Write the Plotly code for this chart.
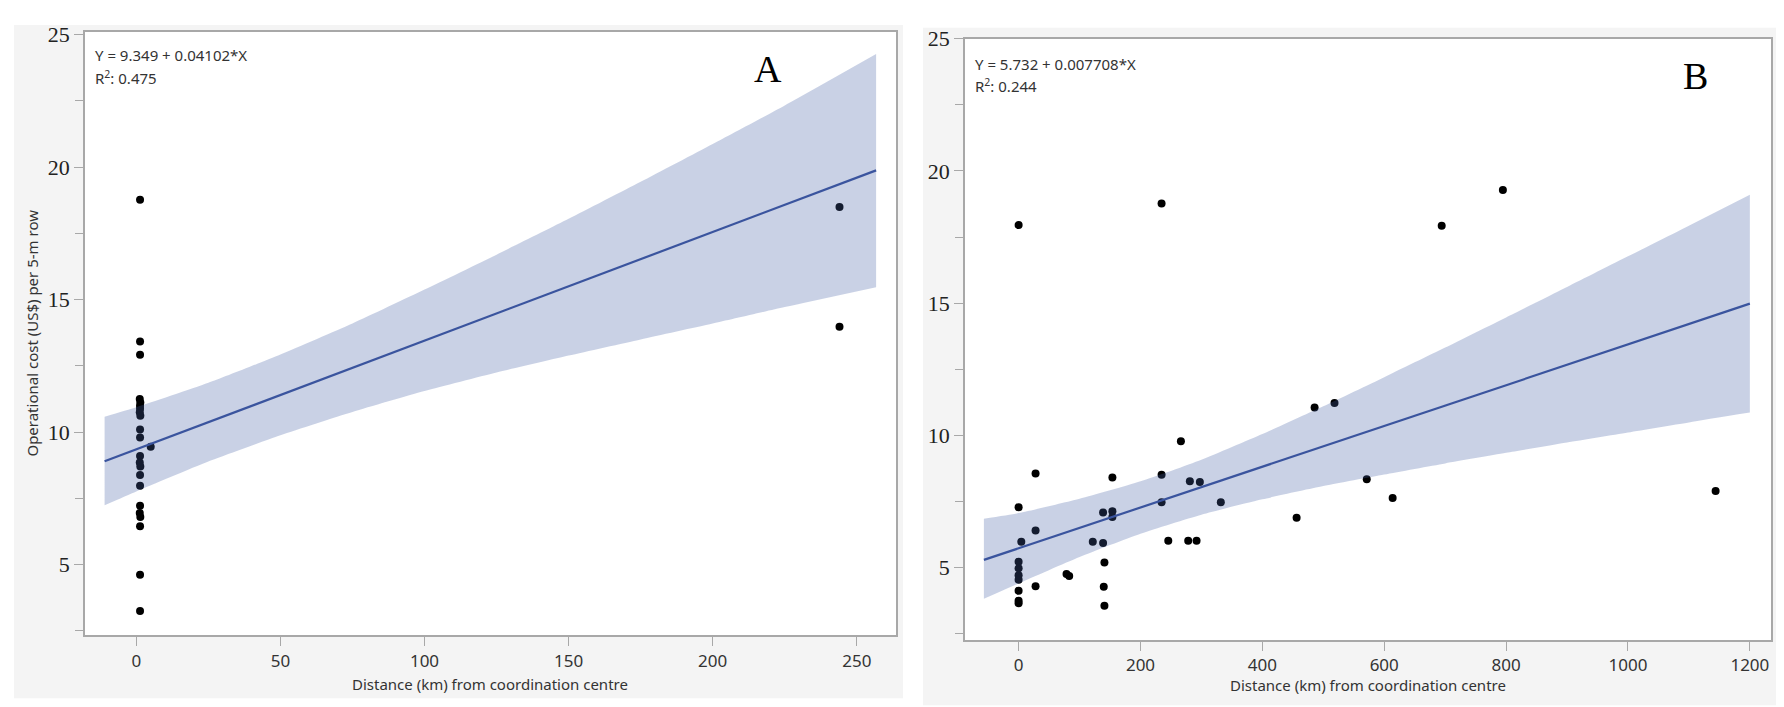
import plotly.graph_objects as go

W, H = 1784, 707

# ---------------- Panel A data ----------------
a_dist = [1.3, 1.3, 1.3, 1.2, 1.4, 1.3, 1.3, 1.2, 1.4, 1.3, 1.3, 1.3, 1.2, 1.4,
          1.3, 1.3, 1.3, 1.2, 1.4, 1.3, 1.3, 1.3, 5.0, 244.0, 244.0]
a_cost = [18.77, 13.42, 12.92, 11.25, 11.12, 11.00, 10.88, 10.75, 10.62, 10.10,
          9.80, 9.10, 8.85, 8.70, 8.38, 7.98, 7.22, 6.95, 6.80, 6.45, 4.62, 3.25,
          9.45, 18.50, 13.98]
a_fit_x = [-11, 256.7]
a_fit_y = [8.90, 19.88]
a_band_x = [-11, 0, 25, 50, 75, 100, 125, 150, 175, 200, 225, 256.7]
a_band_upper = [10.58, 10.94, 11.86, 12.93, 14.10, 15.38, 16.70, 18.05, 19.45, 20.88, 22.33, 24.27]
a_band_lower = [7.24, 7.76, 8.89, 9.88, 10.76, 11.55, 12.25, 12.89, 13.50, 14.10, 14.72, 15.47]

# ---------------- Panel B data ----------------
b_dist = [0, 234.6, 0, 4.4, 0, 0, 0, 0, 0, 0, 0, 27.8, 27.8, 27.8, 78.6, 83.0,
          121.7, 138.6, 138.6, 140.8, 139.7, 140.8, 153.9, 153.9, 153.9, 234.6,
          234.6, 245.6, 266.3, 281.0, 297.4, 278.3, 292.0, 331.8, 456.2, 485.7,
          518.4, 571.3, 613.8, 694.3, 794.7, 1143.8]
b_cost = [17.95, 18.77, 7.28, 5.98, 5.22, 4.97, 4.71, 4.54, 4.12, 3.75, 3.65,
          8.56, 6.40, 4.29, 4.76, 4.68, 5.98, 7.08, 5.93, 5.19, 4.27, 3.56,
          8.41, 7.13, 6.91, 8.51, 7.47, 6.01, 9.78, 8.26, 8.24, 6.01, 6.01, 7.47,
          6.88, 11.05, 11.22, 8.34, 7.63, 17.93, 19.28, 7.90]
b_fit_x = [-57, 1200]
b_fit_y = [5.29, 14.98]
b_band_x = [-57, 0, 100, 200, 300, 400, 500, 600, 700, 800, 900, 1000, 1100, 1200]
b_band_upper = [6.85, 7.06, 7.60, 8.26, 9.08, 10.05, 11.10, 12.20, 13.32, 14.46, 15.61, 16.77, 17.93, 19.10]
b_band_lower = [3.82, 4.40, 5.40, 6.28, 7.00, 7.58, 8.08, 8.52, 8.94, 9.34, 9.73, 10.11, 10.49, 10.86]

y_ticks = [5, 10, 15, 20, 25]
a_x_ticks = [0, 50, 100, 150, 200, 250]
b_x_ticks = [0, 200, 400, 600, 800, 1000, 1200]

x_title = "Distance (km) from coordination centre"
y_title = "Operational cost (US$) per 5-m row"
a_eq = "Y = 9.349 + 0.04102*X"
a_r2 = "R<sup>2</sup>: 0.475"
b_eq = "Y = 5.732 + 0.007708*X"
b_r2 = "R<sup>2</sup>: 0.244"

BAND = "rgba(69,97,166,0.29)"
LINE = "rgb(58,84,158)"
FRAME = "#a8a8a8"


def px(x):
    return x / W


def py(y):
    return 1 - y / H


fig = go.Figure()


def add_panel(xs, ys, bx, bu, bl, fx, fy, xa, ya):
    fig.add_trace(go.Scatter(x=xs, y=ys, mode="markers", xaxis=xa, yaxis=ya,
                             marker=dict(color="black", size=8), showlegend=False,
                             hoverinfo="skip"))
    fig.add_trace(go.Scatter(x=bx, y=bl, mode="lines", xaxis=xa, yaxis=ya,
                             line=dict(width=0, shape="spline", smoothing=0.6),
                             showlegend=False, hoverinfo="skip"))
    fig.add_trace(go.Scatter(x=bx, y=bu, mode="lines", xaxis=xa, yaxis=ya,
                             line=dict(width=0, shape="spline", smoothing=0.6),
                             fill="tonexty", fillcolor=BAND, showlegend=False,
                             hoverinfo="skip"))
    fig.add_trace(go.Scatter(x=fx, y=fy, mode="lines", xaxis=xa, yaxis=ya,
                             line=dict(color=LINE, width=2.2), showlegend=False,
                             hoverinfo="skip"))


add_panel(a_dist, a_cost, a_band_x, a_band_upper, a_band_lower, a_fit_x, a_fit_y, "x", "y")
add_panel(b_dist, b_cost, b_band_x, b_band_upper, b_band_lower, b_fit_x, b_fit_y, "x2", "y2")

xcommon = dict(showline=True, linecolor=FRAME, linewidth=1.5, mirror=True,
               ticks="outside", ticklen=9, tickcolor=FRAME, tickwidth=1.2,
               showgrid=False, zeroline=False,
               tickfont=dict(family="Noto Sans", size=17, color="#333333"))
ycommon = dict(showline=True, linecolor=FRAME, linewidth=1.5, mirror=True,
               ticks="outside", ticklen=9, tickcolor=FRAME, tickwidth=1.2,
               showgrid=False, zeroline=False, tickvals=y_ticks,
               minor=dict(dtick=2.5, ticks="outside", ticklen=8, tickcolor=FRAME, tickwidth=1.2),
               tickfont=dict(family="Liberation Serif", size=22, color="#222222"))

fig.update_layout(
    width=W, height=H,
    margin=dict(l=0, r=0, t=0, b=0),
    paper_bgcolor="white", plot_bgcolor="white",
    xaxis=dict(xcommon, domain=[px(77), px(888)], range=[-17.8, 263.6],
               tickvals=a_x_ticks, anchor="y"),
    yaxis=dict(ycommon, domain=[py(626), py(12)], range=[2.33, 25.11], anchor="x"),
    xaxis2=dict(xcommon, domain=[px(957), px(1763)], range=[-88, 1234.7],
                tickvals=b_x_ticks, anchor="y2"),
    yaxis2=dict(ycommon, domain=[py(631), py(19)], range=[2.25, 25.0], anchor="x2"),
    shapes=[
        dict(type="rect", xref="paper", yref="paper", x0=px(6), x1=px(895),
             y0=py(690), y1=py(5), fillcolor="#f4f4f4", line=dict(width=0), layer="below"),
        dict(type="rect", xref="paper", yref="paper", x0=px(915), x1=px(1780),
             y0=py(697), y1=py(8), fillcolor="#f4f4f4", line=dict(width=0), layer="below"),
    ],
)

# plot-area white backgrounds over the grey panels
for x0, x1, y0, y1 in [(77, 888, 626, 12), (957, 1763, 631, 19)]:
    fig.add_shape(type="rect", xref="paper", yref="paper", x0=px(x0), x1=px(x1),
                  y0=py(y0), y1=py(y1), fillcolor="white", line=dict(width=0),
                  layer="below")

ann_font = dict(family="Noto Sans", size=15, color="#333333")
anns = [
    dict(text=a_eq, x=px(85), y=py(36), xanchor="left", yanchor="middle", font=ann_font),
    dict(text=a_r2, x=px(85), y=py(58), xanchor="left", yanchor="middle", font=ann_font),
    dict(text=b_eq, x=px(965), y=py(45), xanchor="left", yanchor="middle", font=ann_font),
    dict(text=b_r2, x=px(965), y=py(67), xanchor="left", yanchor="middle", font=ann_font),
    dict(text="A", x=px(760), y=py(50), xanchor="center", yanchor="middle",
         font=dict(family="Liberation Serif", size=38, color="black")),
    dict(text="B", x=px(1687), y=py(57), xanchor="center", yanchor="middle",
         font=dict(family="Liberation Serif", size=38, color="black")),
    dict(text=x_title, x=px(482), y=py(675), xanchor="center", yanchor="middle",
         font=dict(family="Noto Sans", size=15, color="#333333")),
    dict(text=x_title, x=px(1360), y=py(676), xanchor="center", yanchor="middle",
         font=dict(family="Noto Sans", size=15, color="#333333")),
    dict(text=y_title, x=px(24), y=py(319), xanchor="center", yanchor="middle",
         textangle=-90, font=dict(family="Noto Sans", size=15, color="#333333")),
]
for a in anns:
    fig.add_annotation(dict(a, xref="paper", yref="paper", showarrow=False))

fig.write_html("out.html")
